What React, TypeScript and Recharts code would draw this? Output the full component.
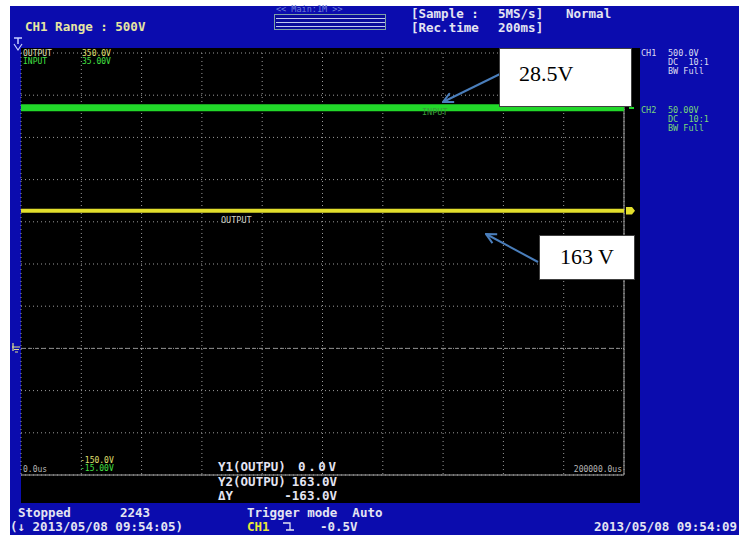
import React from 'react';
import { LineChart, Line, XAxis, YAxis, CartesianGrid, ReferenceLine } from 'recharts';

// Acquisition record: 200 ms span, sampled at each horizontal division
const times = [0, 20000, 40000, 60000, 80000, 100000, 120000, 140000, 160000, 180000, 200000];
// CH1 OUTPUT trace (V)
const outputVolts = [163, 163, 163, 163, 163, 163, 163, 163, 163, 163, 163];
// CH2 INPUT trace (V)
const inputVolts = [28.5, 28.5, 28.5, 28.5, 28.5, 28.5, 28.5, 28.5, 28.5, 28.5, 28.5];

// Screen scales: 10 divisions each way
const outputTicks = [-150, -100, -50, 0, 50, 100, 150, 200, 250, 300, 350];
const inputTicks = [-15, -10, -5, 0, 5, 10, 15, 20, 25, 30, 35];
const timeTicks = times;

const data = times.map((t, i) => ({ t, output: outputVolts[i], input: inputVolts[i] }));

const W = 739;
const H = 535;
const margin = { top: 53, right: 115, bottom: 60, left: 21 };

const MONO = '"DejaVu Sans Mono", "Liberation Mono", monospace';
const SERIF = '"Liberation Serif", "Times New Roman", serif';

const BLUE = '#0b0cae';
const TXT = '#e4e4f2';
const YEL = '#e2de2c';
const GRN = '#22d82a';
const ARROW = '#4a7ebb';

const pre: React.CSSProperties = { whiteSpace: 'pre' };

export default function App() {
  return (
    <div style={{ position: 'absolute', left: 0, top: 0, width: W, height: H, background: '#ffffff' }}>
      <svg width={W} height={H} style={{ position: 'absolute', left: 0, top: 0 }}>
        <rect x={10} y={6} width={W - 10} height={H - 6} fill={BLUE} />
        <rect x={21} y={48} width={619} height={455} fill="#000000" />
      </svg>

      <div style={{ position: 'absolute', left: 0, top: 0 }}>
        <LineChart width={W} height={H} data={data} margin={margin}>
          <XAxis dataKey="t" type="number" domain={[0, 200000]} ticks={timeTicks} hide />
          <YAxis yAxisId="out" type="number" domain={[-150, 350]} ticks={outputTicks} hide />
          <YAxis yAxisId="in" orientation="right" type="number" domain={[-15, 35]} ticks={inputTicks} hide />
          <CartesianGrid yAxisId="out" stroke="#9a9a9a" strokeDasharray="1 3" strokeWidth={1} />
          <ReferenceLine yAxisId="out" y={0} stroke="#8c8c8c" strokeDasharray="4 3" strokeWidth={1} />
          <ReferenceLine yAxisId="out" y={-150} stroke="#a8a8a8" strokeWidth={1} />
          <ReferenceLine yAxisId="out" x={200000} stroke="#a8a8a8" strokeWidth={1} />
          <Line
            yAxisId="in"
            type="linear"
            dataKey="input"
            stroke={GRN}
            strokeWidth={7}
            dot={false}
            isAnimationActive={false}
          />
          <Line
            yAxisId="out"
            type="linear"
            dataKey="output"
            stroke={YEL}
            strokeWidth={4}
            dot={false}
            isAnimationActive={false}
          />
        </LineChart>
      </div>

      <svg width={W} height={H} style={{ position: 'absolute', left: 0, top: 0, pointerEvents: 'none' }}>
        <defs>
          <marker id="head" viewBox="0 0 12 12" refX="11" refY="6" markerWidth="12" markerHeight="12" markerUnits="userSpaceOnUse" orient="auto">
            <path d="M1,1 L11,6 L1,11" fill="none" stroke={ARROW} strokeWidth={2} />
          </marker>
        </defs>

        {/* header */}
        <text x={25} y={31} style={pre} fontFamily={MONO} fontWeight="bold" fontSize={12.5} fill="#e6e6a2">CH1 Range : 500V</text>
        <text x={276} y={12} style={pre} fontFamily={MONO} fontSize={8.5} fill="#6f80d8">{'<< Main:1M >>'}</text>
        <rect x={274.5} y={14.5} width={111} height={15} fill="#0a0a9a" stroke="#7fa0a8" strokeWidth={1} />
        <line x1={276} y1={18.5} x2={385} y2={18.5} stroke="#c0c8f0" strokeWidth={1} />
        <line x1={276} y1={22.5} x2={385} y2={22.5} stroke="#c0c8f0" strokeWidth={1} />
        <line x1={276} y1={26.5} x2={385} y2={26.5} stroke="#c0c8f0" strokeWidth={1} />
        <text x={411} y={18} fontFamily={MONO} fontWeight="bold" fontSize={12.5} fill={TXT}>[Sample :</text>
        <text x={498} y={18} fontFamily={MONO} fontWeight="bold" fontSize={12.5} fill={TXT}>5MS/s]</text>
        <text x={566} y={18} fontFamily={MONO} fontWeight="bold" fontSize={12.5} fill={TXT}>Normal</text>
        <text x={411} y={32} fontFamily={MONO} fontWeight="bold" fontSize={12.5} fill={TXT}>[Rec.time</text>
        <text x={498} y={32} fontFamily={MONO} fontWeight="bold" fontSize={12.5} fill={TXT}>200ms]</text>

        {/* trigger position marker */}
        <path d="M14,38 H22 M18,38 V44" stroke="#c8d0ff" strokeWidth={1.5} fill="none" />
        <path d="M14,44 L18,50 L22,44" stroke="#c8d0ff" strokeWidth={1.2} fill="none" />

        {/* ground marker for CH1 */}
        <path d="M13,343 V351 M12,347 H20 M14,349.5 H19 M15,352 H18" stroke="#e0e090" strokeWidth={1.2} fill="none" />

        {/* channel scale labels inside the screen */}
        <text x={23} y={56} fontFamily={MONO} fontSize={8} fill="#e0e0b8">OUTPUT</text>
        <text x={82} y={56} fontFamily={MONO} fontSize={8} fill="#e0e070">350.0V</text>
        <text x={23} y={64} fontFamily={MONO} fontSize={8} fill="#44e044">INPUT</text>
        <text x={82} y={64} fontFamily={MONO} fontSize={8} fill="#44e044">35.00V</text>
        <text x={80} y={463} fontFamily={MONO} fontSize={8} fill="#e0e070">-150.0V</text>
        <text x={80} y={471} fontFamily={MONO} fontSize={8} fill="#44e044">-15.00V</text>
        <text x={23} y={472} fontFamily={MONO} fontSize={8} fill="#b8b8b8">0.0us</text>
        <text x={622} y={472} textAnchor="end" fontFamily={MONO} fontSize={8} fill="#b8b8b8">200000.0us</text>

        {/* trace labels */}
        <text x={221} y={223} fontFamily={MONO} fontSize={8.5} fill="#d0d0c4">OUTPUT</text>
        <text x={422} y={115} fontFamily={MONO} fontSize={8.5} fill="#3a9a3a">INPUT</text>

        {/* right-edge trace markers */}
        <path d="M626,207 H632 L635,210.8 L632,214.6 H626 Z" fill={YEL} />
        <path d="M630,96 V108 H634" stroke={GRN} strokeWidth={2} fill="none" />

        {/* channel settings panel */}
        <text x={641} y={56} fontFamily={MONO} fontSize={8.5} fill="#dcdcf0">CH1</text>
        <text x={668} y={56} fontFamily={MONO} fontSize={8.5} fill="#dcdcf0">500.0V</text>
        <text x={668} y={65} style={pre} fontFamily={MONO} fontSize={8.5} fill="#dcdcf0">DC  10:1</text>
        <text x={668} y={74} fontFamily={MONO} fontSize={8.5} fill="#dcdcf0">BW Full</text>
        <text x={641} y={113} fontFamily={MONO} fontSize={8.5} fill="#7ad87a">CH2</text>
        <text x={668} y={113} fontFamily={MONO} fontSize={8.5} fill="#7ad87a">50.00V</text>
        <text x={668} y={122} style={pre} fontFamily={MONO} fontSize={8.5} fill="#7ad87a">DC  10:1</text>
        <text x={668} y={131} fontFamily={MONO} fontSize={8.5} fill="#7ad87a">BW Full</text>

        {/* cursor readout */}
        <text x={218} y={471} fontFamily={MONO} fontWeight="bold" fontSize={12.5} fill={TXT}>Y1(OUTPU)</text>
        <text x={298} y={471} textLength={38} lengthAdjust="spacing" fontFamily={MONO} fontWeight="bold" fontSize={12.5} fill={TXT}>0.0V</text>
        <text x={218} y={486} fontFamily={MONO} fontWeight="bold" fontSize={12.5} fill={TXT}>Y2(OUTPU)</text>
        <text x={337} y={486} textAnchor="end" fontFamily={MONO} fontWeight="bold" fontSize={12.5} fill={TXT}>163.0V</text>
        <text x={218} y={500} fontFamily={MONO} fontWeight="bold" fontSize={12.5} fill={TXT}>ΔY</text>
        <text x={337} y={500} textAnchor="end" fontFamily={MONO} fontWeight="bold" fontSize={12.5} fill={TXT}>-163.0V</text>

        {/* status bar */}
        <text x={18} y={517} fontFamily={MONO} fontWeight="bold" fontSize={12.5} fill={TXT}>Stopped</text>
        <text x={120} y={517} fontFamily={MONO} fontWeight="bold" fontSize={12.5} fill={TXT}>2243</text>
        <text x={10} y={531} style={pre} fontFamily={MONO} fontWeight="bold" fontSize={12.5} fill={TXT}>(↓ 2013/05/08 09:54:05)</text>
        <text x={247} y={517} style={pre} fontFamily={MONO} fontWeight="bold" fontSize={12.5} fill={TXT}>Trigger mode  Auto</text>
        <text x={247} y={531} fontFamily={MONO} fontWeight="bold" fontSize={12.5} fill="#e8e838">CH1</text>
        <path d="M283,523 H290 V530 M286,530 H294" stroke={TXT} strokeWidth={1.3} fill="none" />
        <text x={320} y={531} fontFamily={MONO} fontWeight="bold" fontSize={12.5} fill={TXT}>-0.5V</text>
        <text x={737} y={531} textAnchor="end" style={pre} fontFamily={MONO} fontWeight="bold" fontSize={12.5} fill={TXT}>2013/05/08 09:54:09</text>

        {/* measured value call-outs */}
        <line x1={500} y1={74} x2={443} y2={102} stroke={ARROW} strokeWidth={2} markerEnd="url(#head)" />
        <rect x={499.5} y={48.5} width={132} height={58} fill="#ffffff" stroke="#404040" strokeWidth={1} />
        <text x={519} y={81} fontFamily={SERIF} fontSize={22} fill="#000000">28.5V</text>

        <line x1={538} y1={262} x2={486} y2={234} stroke={ARROW} strokeWidth={2} markerEnd="url(#head)" />
        <rect x={539.5} y={235.5} width={95} height={44} fill="#ffffff" stroke="#404040" strokeWidth={1} />
        <text x={587} y={264} textAnchor="middle" fontFamily={SERIF} fontSize={22} fill="#000000">163 V</text>
      </svg>
    </div>
  );
}
